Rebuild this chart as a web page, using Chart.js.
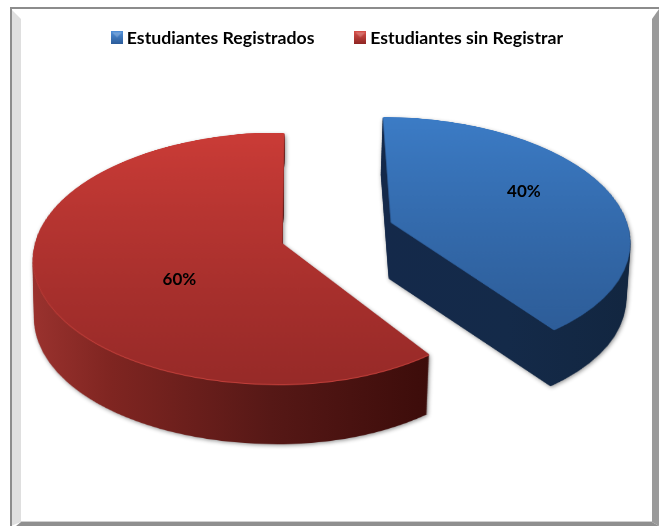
<!DOCTYPE html>
<html>
<head>
<meta charset="utf-8">
<style>html,body{margin:0;padding:0;background:#fff}#w{width:659px;height:526px}canvas{display:block}</style>
<script src="https://cdn.jsdelivr.net/npm/chart.js@4/dist/chart.umd.min.js"></script>
</head>
<body>
<div id="w"><canvas id="c" width="659" height="526"></canvas></div>
<script>
const categories = ['Estudiantes Registrados', 'Estudiantes sin Registrar'];
const values = [40, 60];

const W = 659, H = 526;
const FONT = 'bold 17px Lato';
const looks = [
  { cx:391, cy:222, a:236, s:118.7, u:.13, skew:.076, xr:1, depth:57, dx:-2, xs:.99, ys:1.0,
    top:['#3c7cc6','#2c5a94'], rim:'#2e5f9c', lab:[.6,3,-9],
    wall:[[0,'#14294a'],[.5,'#142a49'],[1,'#122640']], wx:[385,630],
    key:['#4f8fd8','#2a5a98'] },
  { cx:282, cy:243, a:247, s:124.3, u:.12, skew:-.02, xr:.93, depth:60, dx:-1, xs:.99, ys:1.0,
    top:['#cb3c37','#972a28'], rim:'#c2403b', lab:[.42,-2,20],
    wall:[[0,'#9a322e'],[.2,'#7f2521'],[.6,'#561816'],[1,'#3c0c0a']], wx:[32,430],
    key:['#d8504a','#8c2422'] }
];

function makeCanvas(){ const c=document.createElement('canvas'); c.width=W; c.height=H; return c; }
function keyIcon(lk){
  const c=document.createElement('canvas'); c.width=12; c.height=13;
  const g=c.getContext('2d'); const gr=g.createLinearGradient(0,0,0,13);
  gr.addColorStop(0,lk.key[0]); gr.addColorStop(1,lk.key[1]);
  g.fillStyle=gr; g.fillRect(0,0,12,13);
  g.fillStyle='rgba(255,255,255,.22)';
  g.beginPath(); g.moveTo(1,1); g.lineTo(11,1); g.lineTo(6,6); g.closePath(); g.fill();
  return c;
}
function warp(dst, src, p, C, R, off){
  const s=p.s*off.ys, a=p.a*off.xs, u=p.u;
  const y0=Math.floor(-s/(1+u)), y1=Math.ceil(s/(1-u));
  for(let y=y0;y<=y1;y++){
    const n=y/(s+u*y); if(n<-1||n>1) continue;
    const sy=C.y+n*R;
    const dn=Math.max(s/((s+u*y)*(s+u*y))*R,.6);
    const k=a/(1-u*n)/R;
    const dc=p.cx+off.dx+p.skew*y, yy=p.cy+off.dy+y;
    dst.drawImage(src,0,sy,C.x,dn,dc-C.x*k,yy,C.x*k,1);
    dst.drawImage(src,C.x,sy,W-C.x,dn,dc,yy,(W-C.x)*k*p.xr,1);
  }
}
function project(p,nx,ny){
  const d=1-p.u*ny, y=p.s*ny/d;
  return {x:p.cx+p.a*nx*(nx>0?p.xr:1)/d+p.skew*y,y:p.cy+y};
}
const frame = {
  id:'frame',
  beforeDraw(chart){
    const g=chart.ctx; g.save();
    g.fillStyle='#fff'; g.fillRect(0,0,W,H);
    g.fillStyle='#dfdfdf';
    g.beginPath(); g.moveTo(11,9); g.lineTo(21,19); g.lineTo(21,522); g.lineTo(11,526); g.closePath(); g.fill();
    g.fillStyle='#9a9a9a';
    g.beginPath(); g.moveTo(659,9); g.lineTo(652,19); g.lineTo(652,522); g.lineTo(659,526); g.closePath(); g.fill();
    g.fillStyle='#8f8f8f';
    g.beginPath(); g.moveTo(21,522); g.lineTo(652,522); g.lineTo(659,526); g.lineTo(16,526); g.closePath(); g.fill();
    g.fillStyle='#8c8c8c'; g.fillRect(10,7,649,2); g.fillRect(10,7,2,519);
    g.fillStyle='#cfcfcf'; g.fillRect(21,521,631,1);
    g.restore();
  }
};
const pie3d = {
  id:'pie3d',
  beforeDatasetsDraw(chart){
    const g=chart.ctx, meta=chart.getDatasetMeta(0);
    const total=values.reduce((x,y)=>x+y,0);
    [1,0].forEach(i=>{
      const arc=meta.data[i], lk=looks[i], R=arc.outerRadius, C={x:arc.x,y:arc.y};
      const face=makeCanvas(); arc.draw(face.getContext('2d'));
      const wall=makeCanvas(), wg=wall.getContext('2d');
      for(let d=lk.depth;d>=1;d--){
        const t=d/lk.depth;
        warp(wg,face,lk,C,R,{dy:d,dx:lk.dx*t,xs:1-(1-lk.xs)*t,ys:lk.ys});
      }
      wg.globalCompositeOperation='source-in';
      const gr=wg.createLinearGradient(lk.wx[0],0,lk.wx[1],0);
      lk.wall.forEach(st=>gr.addColorStop(st[0],st[1]));
      wg.fillStyle=gr; wg.fillRect(0,0,W,H);
      g.save();
      g.shadowColor='rgba(0,0,0,.45)'; g.shadowBlur=4; g.shadowOffsetY=1; g.shadowOffsetX=1;
      g.drawImage(wall,0,0);
      g.restore();
      const rim=makeCanvas(), rg=rim.getContext('2d');
      warp(rg,face,lk,C,R,{dy:1,dx:0,xs:1,ys:1});
      rg.globalCompositeOperation='source-in';
      rg.fillStyle=lk.rim; rg.fillRect(0,0,W,H);
      g.drawImage(rim,0,0);
      warp(g,face,lk,C,R,{dy:0,dx:0,xs:1,ys:1});
    });
    g.save();
    g.font=FONT; g.fillStyle='#000'; g.textAlign='center'; g.textBaseline='middle';
    meta.data.forEach((arc,i)=>{
      const lk=looks[i], mid=(arc.startAngle+arc.endAngle)/2, r=lk.lab[0];
      const q=project(lk,Math.cos(mid)*r,Math.sin(mid)*r);
      g.fillText(Math.round(values[i]/total*100)+'%',q.x+lk.lab[1],q.y+lk.lab[2]);
    });
    g.restore();
    return false;
  }
};
new Chart(document.getElementById('c'),{
  type:'pie',
  data:{labels:categories,datasets:[{
    data:values,
    borderWidth:0,
    backgroundColor(ctx){
      const lk=looks[ctx.dataIndex]; const A=ctx.chart.chartArea;
      if(!A||!lk) return lk?lk.top[0]:'#000';
      const gr=ctx.chart.ctx.createLinearGradient(0,A.top,0,A.bottom);
      gr.addColorStop(0,lk.top[0]); gr.addColorStop(1,lk.top[1]);
      return gr;
    }
  }]},
  options:{
    responsive:false, animation:false,
    events:[],
    layout:{padding:{top:-16,left:20}},
    plugins:{
      tooltip:{enabled:false},
      legend:{
        position:'top',
        labels:{
          color:'#000', font:{family:'Lato',size:17.7,weight:'bold'},
          usePointStyle:true, pointStyleWidth:2, padding:45,
          generateLabels(){
            return categories.map((t,i)=>({text:t,pointStyle:keyIcon(looks[i]),fontColor:'#000',
              fillStyle:looks[i].top[0],strokeStyle:looks[i].top[0],lineWidth:0,datasetIndex:0,index:i}));
          }
        }
      }
    }
  },
  plugins:[frame,pie3d]
});
</script>
</body>
</html>
